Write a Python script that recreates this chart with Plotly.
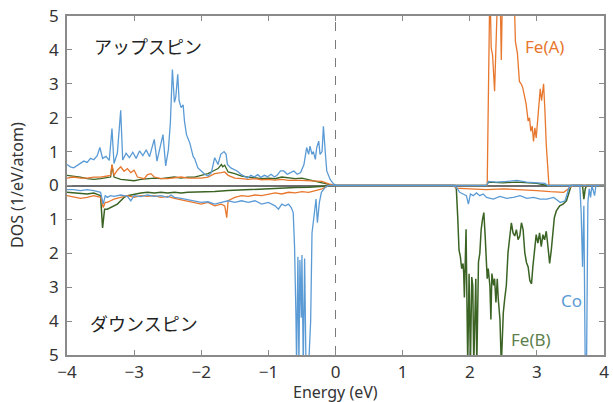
import plotly.graph_objects as go

# ---- Density of states, up spin (positive) and down spin (negative) ----
co_up_e = [-4.00, -3.95, -3.90, -3.85, -3.80, -3.75, -3.70, -3.65, -3.60, -3.55,
           -3.51, -3.47, -3.42, -3.37, -3.33, -3.30, -3.25, -3.20, -3.17, -3.12,
           -3.07, -3.02, -2.97, -2.92, -2.87, -2.82, -2.77, -2.70, -2.66, -2.61,
           -2.57, -2.53, -2.49, -2.46, -2.43, -2.40, -2.38, -2.35, -2.33, -2.30,
           -2.27, -2.25, -2.22, -2.17, -2.12, -2.10, -2.05, -2.00, -1.95, -1.90,
           -1.85, -1.80, -1.75, -1.71, -1.66, -1.63, -1.61, -1.56, -1.51, -1.46,
           -1.41, -1.36, -1.31, -1.26, -1.21, -1.16, -1.11, -1.06, -1.01, -0.96,
           -0.91, -0.87, -0.82, -0.77, -0.72, -0.67, -0.62, -0.57, -0.52, -0.47,
           -0.43, -0.40, -0.38, -0.35, -0.33, -0.30, -0.28, -0.25, -0.23, -0.20,
           -0.18, -0.15, -0.13, -0.08, -0.03, 0.02, 2.25, 2.28, 2.40, 2.55,
           2.70, 2.85, 3.00, 3.12, 3.16, 4.00]
co_up_d = [0.62, 0.55, 0.52, 0.58, 0.66, 0.72, 0.68, 0.80, 0.76, 0.88,
           1.12, 0.80, 0.86, 0.74, 1.68, 0.65, 0.95, 2.22, 0.75, 0.95,
           0.82, 0.98, 0.80, 1.02, 0.88, 1.05, 0.85, 1.36, 0.72, 1.15,
           1.50, 0.58, 1.05, 1.85, 3.42, 2.45, 2.60, 3.28, 2.50, 2.30,
           2.38, 1.90, 1.50, 1.25, 0.85, 0.80, 0.52, 0.43, 0.33, 0.28,
           0.38, 0.82, 0.62, 0.92, 1.00, 0.92, 0.62, 0.52, 0.48, 0.42,
           0.33, 0.28, 0.22, 0.30, 0.25, 0.32, 0.24, 0.30, 0.26, 0.33,
           0.25, 0.30, 0.43, 0.43, 0.33, 0.38, 0.43, 0.33, 0.38, 0.62,
           1.12, 0.92, 1.16, 0.92, 1.00, 0.77, 1.12, 1.31, 0.92, 1.00,
           1.75, 0.92, 0.43, 0.18, 0.05, 0.00, 0.00, 0.12, 0.10, 0.12,
           0.15, 0.10, 0.08, 0.06, 0.00, 0.00]

co_dn_e = [-4.00, -3.90, -3.80, -3.70, -3.60, -3.50, -3.46, -3.43, -3.40, -3.35,
           -3.30, -3.20, -3.10, -3.05, -3.00, -2.90, -2.80, -2.70, -2.60, -2.50,
           -2.45, -2.40, -2.30, -2.20, -2.10, -2.00, -1.90, -1.80, -1.70, -1.60,
           -1.50, -1.40, -1.30, -1.20, -1.10, -1.00, -0.90, -0.85, -0.80, -0.75,
           -0.70, -0.66, -0.63, -0.61, -0.59, -0.58, -0.56, -0.545, -0.53, -0.51,
           -0.50, -0.48, -0.46, -0.44, -0.40, -0.37, -0.35, -0.32, -0.29, -0.27,
           -0.24, -0.21, -0.15, -0.10, 1.75, 1.80, 1.85, 1.90, 1.95, 1.98,
           2.01, 2.05, 2.10, 2.15, 2.20, 2.25, 2.35, 2.45, 2.55, 2.65,
           2.75, 2.85, 2.95, 3.05, 3.15, 3.25, 3.35, 3.42, 3.48, 3.52,
           3.64, 3.66, 3.68, 3.70, 3.72, 3.74, 3.76, 3.78, 3.80, 3.82,
           3.86, 3.88, 4.00]
co_dn_d = [-0.12, -0.12, -0.15, -0.12, -0.15, -0.20, -0.55, -0.30, -0.35, -0.30,
           -0.32, -0.28, -0.32, -0.45, -0.30, -0.33, -0.28, -0.32, -0.30, -0.35,
           -0.28, -0.35, -0.38, -0.42, -0.45, -0.50, -0.48, -0.55, -0.50, -0.45,
           -0.50, -0.45, -0.50, -0.45, -0.55, -0.50, -0.60, -0.70, -0.55, -0.60,
           -0.55, -0.65, -0.80, -1.80, -3.80, -5.30, -2.10, -5.30, -2.20, -3.90,
           -2.05, -5.30, -2.15, -5.30, -5.30, -4.00, -1.40, -0.85, -0.40, -1.10,
           -0.50, -0.20, -0.05, 0.00, 0.00, -0.05, -0.20, -0.25, -0.30, -0.55,
           -0.25, -0.30, -0.22, -0.30, -0.25, -0.35, -0.40, -0.32, -0.38, -0.35,
           -0.30, -0.38, -0.35, -0.40, -0.40, -0.35, -0.50, -0.45, -0.05, 0.00,
           0.00, -0.80, -2.40, -0.60, -5.30, -5.30, -0.50, -0.10, -0.35, 0.00,
           -0.30, 0.00, 0.00]

fea_up_e = [-4.00, -3.90, -3.80, -3.70, -3.60, -3.50, -3.40, -3.35, -3.33, -3.30,
            -3.25, -3.20, -3.15, -3.10, -3.05, -3.00, -2.95, -2.90, -2.85, -2.80,
            -2.75, -2.70, -2.60, -2.50, -2.40, -2.30, -2.20, -2.10, -2.00, -1.90,
            -1.80, -1.70, -1.65, -1.60, -1.50, -1.40, -1.30, -1.20, -1.10, -1.00,
            -0.90, -0.80, -0.70, -0.60, -0.50, -0.40, -0.30, -0.20, -0.10, 0.00,
            2.26, 2.30, 2.32, 2.34, 2.37, 2.40, 2.42, 2.45, 2.47, 2.49,
            2.55, 2.60, 2.65, 2.68, 2.71, 2.74, 2.77, 2.79, 2.82, 2.84,
            2.87, 2.89, 2.91, 2.93, 2.95, 2.97, 2.99, 3.02, 3.05, 3.07,
            3.10, 3.12, 3.14, 3.18, 4.00]
fea_up_d = [0.22, 0.25, 0.22, 0.22, 0.25, 0.25, 0.28, 0.30, 0.62, 0.30,
            0.45, 0.55, 0.42, 0.50, 0.38, 0.45, 0.25, 0.22, 0.20, 0.32,
            0.35, 0.25, 0.20, 0.20, 0.22, 0.25, 0.22, 0.22, 0.22, 0.25,
            0.35, 0.38, 0.40, 0.30, 0.22, 0.20, 0.18, 0.20, 0.17, 0.18,
            0.16, 0.18, 0.15, 0.16, 0.15, 0.14, 0.13, 0.12, 0.05, 0.00,
            0.00, 6.00, 4.05, 3.85, 2.78, 4.20, 6.00, 6.00, 3.70, 6.00,
            7.00, 7.00, 6.50, 4.25, 3.90, 3.07, 2.98, 2.88, 2.60, 2.40,
            1.90, 2.00, 1.60, 1.75, 1.30, 1.70, 1.40, 2.10, 2.85, 2.50,
            3.00, 2.20, 1.20, 0.00, 0.00]

fea_dn_e = [-4.00, -3.90, -3.80, -3.70, -3.60, -3.50, -3.46, -3.43, -3.40, -3.35,
            -3.30, -3.20, -3.10, -3.00, -2.90, -2.80, -2.70, -2.60, -2.50, -2.40,
            -2.30, -2.20, -2.10, -2.00, -1.90, -1.80, -1.70, -1.65, -1.62, -1.60,
            -1.50, -1.40, -1.30, -1.20, -1.10, -1.00, -0.90, -0.80, -0.70, -0.60,
            -0.50, -0.40, -0.30, -0.20, -0.15, -0.10, 1.75, 1.80, 2.00, 2.25,
            2.50, 2.75, 3.00, 3.20, 3.40, 3.50, 3.55, 4.00]
fea_dn_d = [-0.30, -0.35, -0.38, -0.35, -0.30, -0.35, -0.65, -0.50, -0.50, -0.45,
            -0.40, -0.35, -0.30, -0.35, -0.30, -0.32, -0.30, -0.35, -0.32, -0.38,
            -0.42, -0.45, -0.50, -0.55, -0.50, -0.60, -0.55, -0.60, -0.95, -0.45,
            -0.35, -0.30, -0.32, -0.28, -0.30, -0.25, -0.22, -0.25, -0.20, -0.22,
            -0.18, -0.20, -0.15, -0.10, -0.05, 0.00, 0.00, -0.08, -0.10, -0.12,
            -0.10, -0.12, -0.15, -0.18, -0.20, -0.05, 0.00, 0.00]

feb_up_e = [-4.00, -3.90, -3.80, -3.70, -3.60, -3.50, -3.40, -3.35, -3.33, -3.30,
            -3.20, -3.10, -3.00, -2.90, -2.80, -2.70, -2.60, -2.50, -2.40, -2.30,
            -2.20, -2.10, -2.00, -1.90, -1.80, -1.75, -1.70, -1.68, -1.65, -1.60,
            -1.50, -1.40, -1.30, -1.20, -1.10, -1.00, -0.90, -0.80, -0.70, -0.60,
            -0.50, -0.40, -0.30, -0.20, -0.10, 0.00, 2.25, 2.28, 2.50, 2.70,
            3.00, 3.15, 4.00]
feb_up_d = [0.30, 0.28, 0.25, 0.20, 0.18, 0.20, 0.22, 0.25, 0.60, 0.25,
            0.18, 0.15, 0.14, 0.18, 0.20, 0.22, 0.20, 0.22, 0.25, 0.22,
            0.25, 0.25, 0.30, 0.35, 0.45, 0.50, 0.62, 0.55, 0.60, 0.40,
            0.35, 0.28, 0.25, 0.22, 0.20, 0.22, 0.20, 0.25, 0.22, 0.20,
            0.22, 0.18, 0.12, 0.08, 0.03, 0.00, 0.00, 0.10, 0.08, 0.10,
            0.06, 0.00, 0.00]

feb_dn_e = [-4.00, -3.90, -3.80, -3.70, -3.60, -3.50, -3.47, -3.44, -3.40, -3.35,
            -3.30, -3.25, -3.20, -3.15, -3.10, -3.00, -2.90, -2.80, -2.70, -2.60,
            -2.50, -2.40, -2.30, -2.20, -2.00, -1.80, -1.60, -1.40, -1.20, -1.00,
            -0.80, -0.60, -0.40, -0.20, 0.00, 1.78, 1.80, 1.82, 1.84, 1.86,
            1.88, 1.90, 1.91, 1.92, 1.93, 1.945, 1.955, 1.97, 1.99, 2.01,
            2.03, 2.045, 2.06, 2.09, 2.105, 2.13, 2.15, 2.17, 2.19, 2.21,
            2.23, 2.245, 2.26, 2.275, 2.30, 2.315, 2.33, 2.355, 2.37, 2.39,
            2.41, 2.425, 2.45, 2.47, 2.50, 2.52, 2.545, 2.57, 2.595, 2.62,
            2.645, 2.67, 2.695, 2.72, 2.745, 2.77, 2.795, 2.82, 2.845, 2.87,
            2.895, 2.92, 2.94, 2.965, 2.99, 3.015, 3.04, 3.065, 3.09, 3.115,
            3.14, 3.165, 3.19, 3.215, 3.24, 3.26, 3.29, 3.34, 3.39, 3.44,
            3.48, 3.51, 3.68, 3.70, 3.72, 3.74, 4.00]
feb_dn_d = [-0.20, -0.22, -0.25, -0.25, -0.22, -0.30, -1.25, -0.70, -0.70, -0.65,
            -0.60, -0.55, -0.45, -0.35, -0.30, -0.25, -0.22, -0.20, -0.22, -0.20,
            -0.22, -0.20, -0.22, -0.20, -0.20, -0.18, -0.15, -0.13, -0.10, -0.09,
            -0.07, -0.06, -0.05, -0.03, 0.00, 0.00, -0.10, -0.90, -1.90, -2.10,
            -2.45, -2.30, -2.60, -3.30, -2.00, -1.29, -2.95, -5.30, -2.60, -5.30,
            -2.70, -2.95, -5.30, -2.75, -5.30, -2.25, -2.00, -1.30, -1.00, -0.80,
            -1.50, -2.00, -2.75, -2.45, -2.95, -3.95, -2.60, -2.95, -2.75, -3.45,
            -2.75, -3.35, -3.95, -5.30, -3.75, -3.35, -2.95, -1.98, -1.49, -1.10,
            -1.40, -1.49, -1.30, -1.60, -1.49, -1.10, -1.30, -1.98, -2.27, -2.40,
            -2.80, -2.90, -2.40, -1.90, -1.45, -1.70, -1.40, -1.80, -1.45, -1.60,
            -1.35, -1.80, -2.30, -1.90, -1.40, -0.95, -0.75, -0.60, -0.55, -0.45,
            -0.20, 0.00, 0.00, -0.40, -0.10, 0.00, 0.00]

y_tick_vals = [-5, -4, -3, -2, -1, 0, 1, 2, 3, 4, 5]
y_tick_text = ["5", "4", "3", "2", "1", "0", "1", "2", "3", "4", "5"]
x_tick_vals = [-4, -3, -2, -1, 0, 1, 2, 3, 4]

CO = "#5b9bd5"
FEA = "#e8772e"
FEB = "#3b6424"
FRAME = "#8a8a8a"
TEXT = "#333333"
LATIN = "Noto Sans, Open Sans, sans-serif"
CJK = "Noto Sans CJK JP, sans-serif"

fig = go.Figure()

series = [
    (feb_up_e, feb_up_d, FEB, 1.3),
    (feb_dn_e, feb_dn_d, FEB, 1.5),
    (fea_up_e, fea_up_d, FEA, 1.3),
    (fea_dn_e, fea_dn_d, FEA, 1.3),
    (co_dn_e, co_dn_d, CO, 1.3),
    (co_up_e, co_up_d, CO, 1.3),
]
for ex, dy, col, w in series:
    fig.add_trace(go.Scatter(x=ex, y=dy, mode="lines",
                             line=dict(color=col, width=w),
                             showlegend=False, hoverinfo="skip"))

# Fermi level
fig.add_shape(type="line", x0=0, x1=0, y0=-5, y1=5, xref="x", yref="y",
              line=dict(color="#7a7a7a", width=1, dash="dash"), layer="below")

annots = [
    dict(x=-2.80, y=4.12, text="アップスピン", font=dict(family=CJK, size=18, color="#222222")),
    dict(x=-2.86, y=-4.06, text="ダウンスピン", font=dict(family=CJK, size=18, color="#222222")),
    dict(x=3.12, y=4.09, text="Fe(A)", font=dict(family=LATIN, size=17, color=FEA)),
    dict(x=3.51, y=-3.40, text="Co", font=dict(family=LATIN, size=17, color=CO)),
    dict(x=2.915, y=-4.54, text="Fe(B)", font=dict(family=LATIN, size=17, color="#5d7f4c")),
]
for a in annots:
    fig.add_annotation(xref="x", yref="y", showarrow=False,
                       xanchor="center", yanchor="middle", **a)

# axis titles
fig.add_annotation(xref="paper", yref="paper", x=0.5, y=-0.108, showarrow=False,
                   xanchor="center", yanchor="middle", text="Energy (eV)",
                   font=dict(family=LATIN, size=16, color=TEXT))
fig.add_annotation(xref="paper", yref="paper", x=-0.094, y=0.5, showarrow=False,
                   xanchor="center", yanchor="middle", textangle=-90,
                   text="DOS (1/eV/atom)",
                   font=dict(family=LATIN, size=16, color=TEXT))

axis_common = dict(showline=True, linecolor=FRAME, linewidth=1.5, mirror="allticks",
                   ticks="inside", ticklen=5, tickwidth=1, tickcolor=FRAME,
                   showgrid=False, tickfont=dict(family=LATIN, size=17, color=TEXT))

fig.update_xaxes(range=[-4, 4], tickvals=x_tick_vals, zeroline=False,
                 ticklabelstandoff=1, **axis_common)
fig.update_yaxes(range=[-5, 5], tickvals=y_tick_vals, ticktext=y_tick_text,
                 zeroline=True, zerolinecolor="#6e6e6e", zerolinewidth=2,
                 ticklabelstandoff=3, **axis_common)

fig.update_layout(width=613, height=402,
                  margin=dict(l=67, r=4, t=14, b=47),
                  paper_bgcolor="white", plot_bgcolor="white")

fig.write_html("out.html")
